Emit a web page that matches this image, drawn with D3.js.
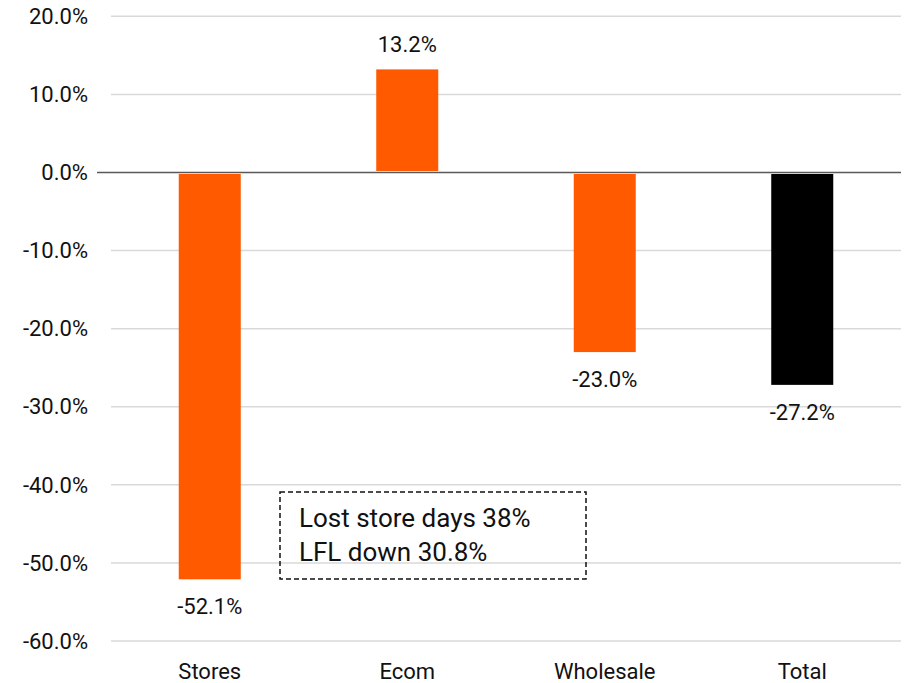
<!DOCTYPE html>
<html><head><meta charset="utf-8">
<script src="https://cdn.jsdelivr.net/npm/d3@7"></script>
<style>body{margin:0;background:#fff}svg text{font-family:Roboto,"Noto Sans",sans-serif;fill:#111}</style>
</head><body><svg id="c" width="911" height="683"></svg>
<script>
const categories = ["Stores","Ecom","Wholesale","Total"];
const values = [-52.1, 13.2, -23.0, -27.2];
const barColors = ["#FF5A00","#FF5A00","#FF5A00","#000000"];
const yTicks = [20,10,0,-10,-20,-30,-40,-50,-60];
const noteLines = ["Lost store days 38%","LFL down 30.8%"];

const pct = d => d3.format(".1f")(d).replace("\u2212","-") + "%";
const svg = d3.select("#c");
const x = d3.scaleBand().domain(categories).range([111,901]).paddingInner(0.686).paddingOuter(0.343);
const y = d3.scaleLinear().domain([-60,20]).range([641,16.3]);

// gridlines
svg.append("g").selectAll("line").data(yTicks.filter(d=>d!==0)).join("line")
  .attr("x1",111).attr("x2",901).attr("y1",d=>y(d)).attr("y2",d=>y(d))
  .attr("stroke","#d9d9d9").attr("stroke-width",1.5);

// y labels
svg.append("g").selectAll("text").data(yTicks).join("text")
  .attr("x",88).attr("y",d=>y(d)).attr("dy","0.35em").attr("text-anchor","end")
  .attr("font-size",22).text(pct);

// bars
svg.append("g").selectAll("rect").data(values).join("rect")
  .attr("x",(d,i)=>x(categories[i])).attr("width",x.bandwidth())
  .attr("y",d=>d>0?y(d):y(0)+1.5).attr("height",d=>Math.abs(y(d)-y(0))-1.5)
  .attr("fill",(d,i)=>barColors[i]);

// zero line
svg.append("line").attr("x1",97).attr("x2",901).attr("y1",y(0)).attr("y2",y(0))
  .attr("stroke","#595959").attr("stroke-width",1.5);

// value labels
svg.append("g").selectAll("text").data(values).join("text")
  .attr("x",(d,i)=>x(categories[i])+x.bandwidth()/2)
  .attr("y",d=>d>0?y(d)-17:y(d)+35).attr("text-anchor","middle")
  .attr("font-size",22).text(pct);

// category labels
svg.append("g").selectAll("text").data(categories).join("text")
  .attr("x",d=>x(d)+x.bandwidth()/2).attr("y",679).attr("text-anchor","middle")
  .attr("font-size",22).text(d=>d);

// annotation
svg.append("rect").attr("x",280).attr("y",492).attr("width",306).attr("height",87)
  .attr("fill","none").attr("stroke","#111").attr("stroke-width",1.5).attr("stroke-dasharray","5,3");
svg.append("g").selectAll("text").data(noteLines).join("text")
  .attr("x",299).attr("y",(d,i)=>527+i*34).attr("font-size",26).text(d=>d);
</script></body></html>
